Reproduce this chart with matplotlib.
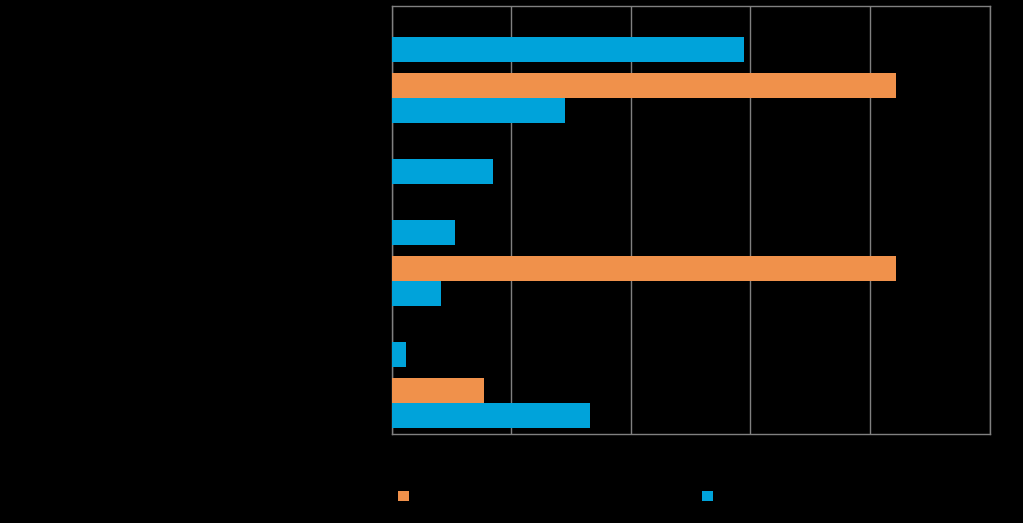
import numpy as np
import matplotlib.pyplot as plt
from matplotlib.patches import Patch

# data (text is drawn in black on black)
categories = ['Category 1', 'Category 2', 'Category 3', 'Category 4',
              'Category 5', 'Category 6', 'Category 7']
orange_vals = [0, 42.2, 0, 0, 42.2, 0, 7.7]
blue_vals = [29.5, 14.5, 8.5, 5.3, 4.15, 1.23, 16.6]
series_names = ['Series 1', 'Series 2']
x_ticks = [0, 10, 20, 30, 40, 50]

ORANGE = '#F0914B'
BLUE = '#00A3DA'
GRID = '#808080'
BG = '#000000'
TXT = '#000000'

fig = plt.figure(figsize=(10.23, 5.23), dpi=100)
fig.patch.set_facecolor(BG)
ax = fig.add_axes([0.3827, 0.1702, 0.5848, 0.8183])
ax.set_facecolor(BG)

y = np.arange(len(categories))
h = 0.41
ax.barh(y - h / 2, orange_vals, height=h, color=ORANGE, zorder=3)
ax.barh(y + h / 2, blue_vals, height=h, color=BLUE, zorder=3)

ax.set_ylim(len(categories) - 0.5, -0.5)
ax.set_xlim(0, 50)
ax.set_xticks(x_ticks)
ax.set_xticklabels([str(t) for t in x_ticks], color=TXT, fontsize=10)
ax.set_yticks(y)
ax.set_yticklabels(categories, color=TXT, fontsize=10)
ax.tick_params(length=0)
ax.grid(True, axis='x', color=GRID, linewidth=1, zorder=0)
for spine in ax.spines.values():
    spine.set_color(GRID)
    spine.set_linewidth(1)

# legend: two entries, placed separately
for name, col, xpos in [(series_names[0], ORANGE, 398 / 1023),
                        (series_names[1], BLUE, 702 / 1023)]:
    leg = fig.legend(handles=[Patch(facecolor=col)], labels=[name],
                     loc='center left', bbox_to_anchor=(xpos, 1 - 497 / 523),
                     frameon=False, borderpad=0, borderaxespad=0,
                     handlelength=0.8, handleheight=0.8, handletextpad=0.5,
                     fontsize=10, labelcolor=TXT)
    fig.add_artist(leg)

fig.savefig('out.png', facecolor=BG, dpi=100)
